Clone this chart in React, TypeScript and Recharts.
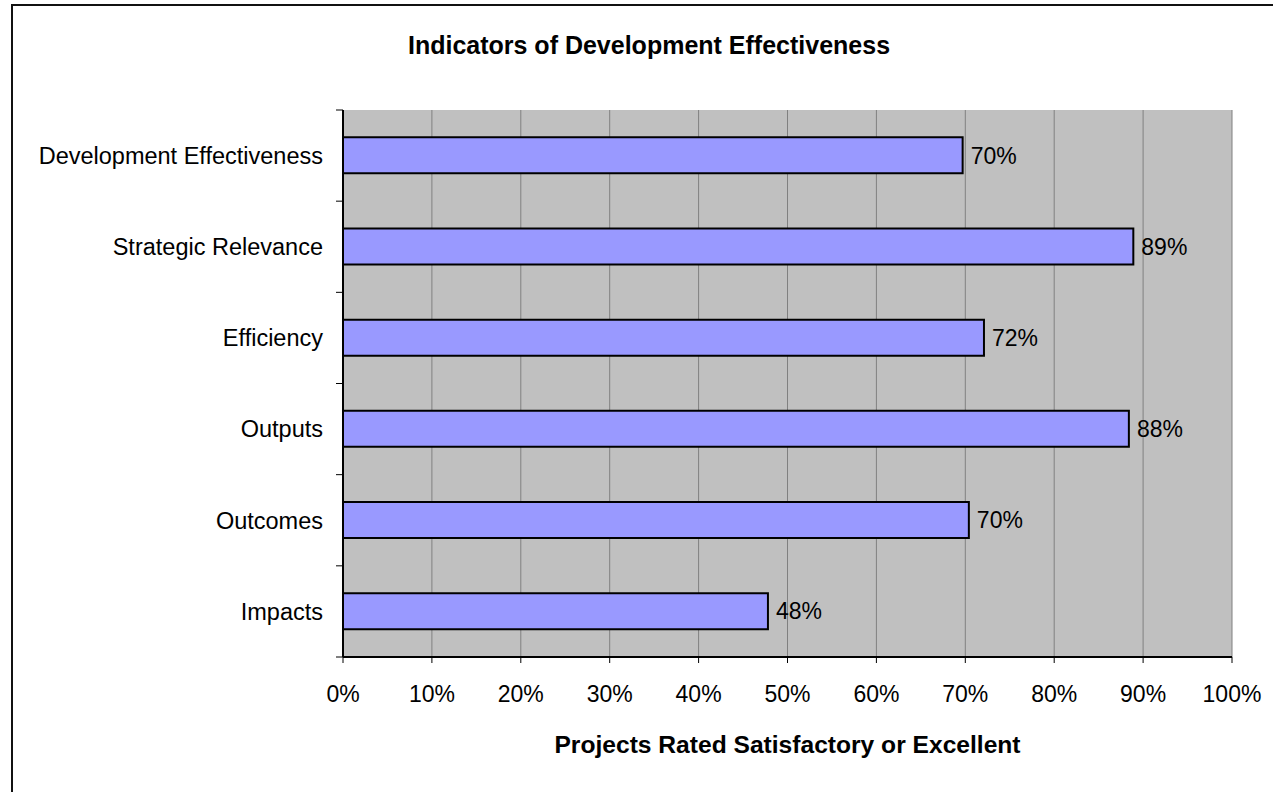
import React from "react";
import { BarChart, Bar, XAxis, YAxis, CartesianGrid, LabelList, Label } from "recharts";

const categories = [
  "Development Effectiveness",
  "Strategic Relevance",
  "Efficiency",
  "Outputs",
  "Outcomes",
  "Impacts",
];
const satisfactoryPct = [69.7, 88.9, 72.1, 88.4, 70.4, 47.8];
const xTicks = [0, 10, 20, 30, 40, 50, 60, 70, 80, 90, 100];

const title = "Indicators of Development Effectiveness";
const xTitle = "Projects Rated Satisfactory or Excellent";

const data = categories.map((name, i) => ({ name, value: satisfactoryPct[i] }));

const FONT = "'Liberation Sans', Arial, sans-serif";
const CHART_H = 792;
const MARGIN_TOP = 110;
const X_AXIS_H = 135;
const Y_AXIS_W = 343;
const TICK_LEN = 7;

function CategoryTick(props: any) {
  const { x, y, payload, index, visibleTicksCount } = props;
  const fallbackHalf = (CHART_H - MARGIN_TOP - X_AXIS_H) / categories.length / 2;
  const half = payload && typeof payload.offset === "number" && payload.offset > 0 ? payload.offset : fallbackHalf;
  const axisX = x + 20;
  const count = visibleTicksCount ?? categories.length;
  return (
    <g>
      <line x1={axisX - TICK_LEN} x2={axisX} y1={y - half} y2={y - half} stroke="#000" strokeWidth={1} />
      {index === count - 1 && (
        <line x1={axisX - TICK_LEN} x2={axisX} y1={y + half} y2={y + half} stroke="#000" strokeWidth={1} />
      )}
      <text x={x} y={y} dy="0.355em" textAnchor="end" fill="#000" fontSize={23.5} fontFamily={FONT}>
        {payload.value}
      </text>
    </g>
  );
}

export default function App() {
  return (
    <div style={{ position: "fixed", left: 0, top: 0, width: 1273, height: 792, overflow: "hidden", background: "#fff" }}>
      <div
        style={{
          position: "absolute",
          left: 11,
          top: 4,
          width: 1400,
          height: 1000,
          borderLeft: "2px solid #111",
          borderTop: "2px solid #111",
        }}
      />
      <div
        style={{
          position: "absolute",
          left: 649,
          top: 33,
          transform: "translateX(-50%)",
          fontFamily: FONT,
          fontWeight: "bold",
          fontSize: 25,
          lineHeight: "25px",
          whiteSpace: "nowrap",
          color: "#000",
        }}
      >
        {title}
      </div>
      <div style={{ position: "absolute", left: 0, top: 0 }}>
        <BarChart
          layout="vertical"
          width={1273}
          height={CHART_H}
          data={data}
          margin={{ top: MARGIN_TOP, right: 41, bottom: 0, left: 0 }}
          barCategoryGap="30%"
        >
          <CartesianGrid
            horizontal={false}
            vertical={true}
            stroke="#808080"
            fill="#C0C0C0"
            fillOpacity={1}
          />
          <XAxis
            type="number"
            domain={[0, 100]}
            ticks={xTicks}
            interval={0}
            tickFormatter={(v) => `${v}%`}
            height={X_AXIS_H}
            axisLine={{ stroke: "#000", strokeWidth: 2 }}
            tickLine={{ stroke: "#000", strokeWidth: 1 }}
            tickSize={6}
            tickMargin={23}
            tick={{ fill: "#000", fontSize: 23, fontFamily: FONT }}
          >
            <Label
              value={xTitle}
              position="insideBottom"
              offset={39}
              style={{ fill: "#000", fontSize: 24.6, fontWeight: "bold", fontFamily: FONT }}
            />
          </XAxis>
          <XAxis
            xAxisId="top"
            orientation="top"
            type="number"
            domain={[0, 100]}
            height={0}
            tick={false}
            tickLine={false}
            axisLine={{ stroke: "#808080", strokeWidth: 2 }}
          />
          <YAxis
            type="category"
            dataKey="name"
            width={Y_AXIS_W}
            interval={0}
            tickLine={false}
            axisLine={{ stroke: "#000", strokeWidth: 2 }}
            tickSize={0}
            tickMargin={20}
            tick={<CategoryTick />}
          />
          <Bar
            dataKey="value"
            fill="#9999FF"
            stroke="#000"
            strokeWidth={2}
            isAnimationActive={false}
          >
            <LabelList
              dataKey="value"
              position="right"
              offset={8}
              formatter={(v: number) => `${Math.round(v)}%`}
              style={{ fill: "#000", fontSize: 23, fontFamily: FONT }}
            />
          </Bar>
        </BarChart>
      </div>
    </div>
  );
}
